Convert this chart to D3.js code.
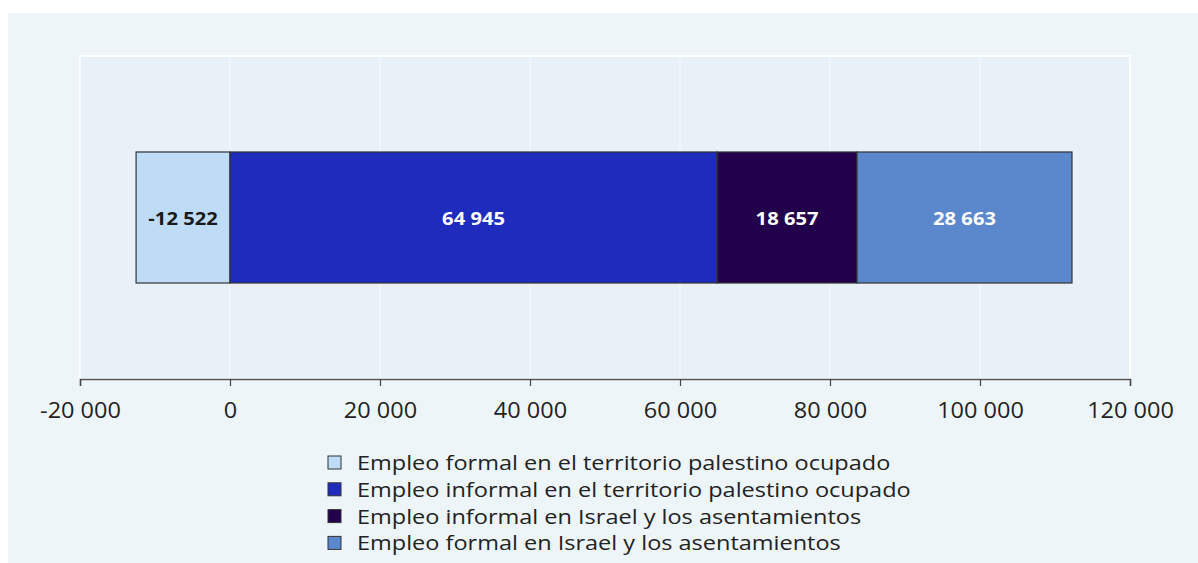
<!DOCTYPE html>
<html><head><meta charset="utf-8">
<script src="https://cdn.jsdelivr.net/npm/d3@7"></script>
<style>
html,body{margin:0;padding:0;background:#fff;}
svg{display:block;font-family:"Open Sans","Noto Sans",sans-serif;}
</style></head>
<body><svg id="chart" width="1198" height="563"></svg>
<script>
const seriesNames = [
  "Empleo formal en el territorio palestino ocupado",
  "Empleo informal en el territorio palestino ocupado",
  "Empleo informal en Israel y los asentamientos",
  "Empleo formal en Israel y los asentamientos"
];
const seriesValues = [-12522, 64945, 18657, 28663];
const seriesColors = ["#bfdcf7", "#1f2bbd", "#22004b", "#5b88cd"];
const labelColors = ["#1a1a1a", "#ffffff", "#ffffff", "#ffffff"];
const tickValues = [-20000, 0, 20000, 40000, 60000, 80000, 100000, 120000];
const xDomain = [-20000, 120000];

const svg = d3.select("#chart");
const W = 1198, H = 563;
const plot = {left: 80, right: 1130, top: 56, bottom: 379};

svg.append("rect").attr("x", 8).attr("y", 13).attr("width", W - 8).attr("height", H - 13).attr("fill", "#eef5f9");
svg.append("rect").attr("x", plot.left).attr("y", plot.top)
  .attr("width", plot.right - plot.left).attr("height", plot.bottom - plot.top)
  .attr("fill", "#e8f0f8").attr("stroke", "#ffffff").attr("stroke-width", 2);

const x = d3.scaleLinear().domain(xDomain).range([plot.left, plot.right]);
const barY = 152, barH = 131;

// gridlines
svg.append("g").selectAll("line").data(tickValues).join("line")
  .attr("x1", d => x(d)).attr("x2", d => x(d))
  .attr("y1", plot.top).attr("y2", plot.bottom)
  .attr("stroke", "#f7fafd").attr("stroke-width", 1);

const segs = [];
let pos = 0;
seriesValues.forEach((v, i) => {
  if (v < 0) segs.push({i, x0: v, x1: 0, v});
  else { segs.push({i, x0: pos, x1: pos + v, v}); pos += v; }
});

const fmt = v => (v < 0 ? "-" : "") + d3.format(",")(Math.abs(v)).replace(/,/g, " ");

const gb = svg.append("g");
gb.selectAll("rect").data(segs).join("rect")
  .attr("x", d => x(d.x0)).attr("y", barY)
  .attr("width", d => x(d.x1) - x(d.x0)).attr("height", barH)
  .attr("fill", d => seriesColors[d.i])
  .attr("stroke", "#333").attr("stroke-width", 1.2);

gb.selectAll("text").data(segs).join("text")
  .attr("transform", d => `translate(${(x(d.x0) + x(d.x1)) / 2},${barY + barH / 2 + 7}) scale(1.12,1)`)
  .attr("text-anchor", "middle")
  .attr("font-size", 18).attr("font-weight", 700)
  .attr("fill", d => labelColors[d.i])
  .text(d => fmt(d.v));

// axis
const axis = d3.axisBottom(x).tickValues(tickValues).tickSize(7).tickFormat(fmt);
const ga = svg.append("g").attr("transform", `translate(0,${plot.bottom})`).call(axis);
ga.select(".domain").attr("stroke", "#555").attr("stroke-width", 1.5);
ga.selectAll(".tick line").attr("stroke", "#444").attr("stroke-width", 1.2);
ga.selectAll(".tick text")
  .attr("font-family", "'Open Sans','Noto Sans',sans-serif")
  .attr("font-size", 21).attr("fill", "#222").attr("dy", 0).attr("y", 39)
  .attr("transform", "scale(1.12,1)");

// legend
const lg = svg.append("g").attr("transform", "translate(328,456)");
const rows = lg.selectAll("g").data(seriesNames).join("g")
  .attr("transform", (d, i) => `translate(0,${i * 26.8})`);
rows.append("rect").attr("width", 13).attr("height", 13)
  .attr("fill", (d, i) => seriesColors[i]).attr("stroke", "#333").attr("stroke-width", 1);
rows.append("text").attr("transform", "translate(29,14) scale(1.175,1)")
  .attr("font-size", 20).attr("fill", "#222").text(d => d);
</script>
</body></html>
